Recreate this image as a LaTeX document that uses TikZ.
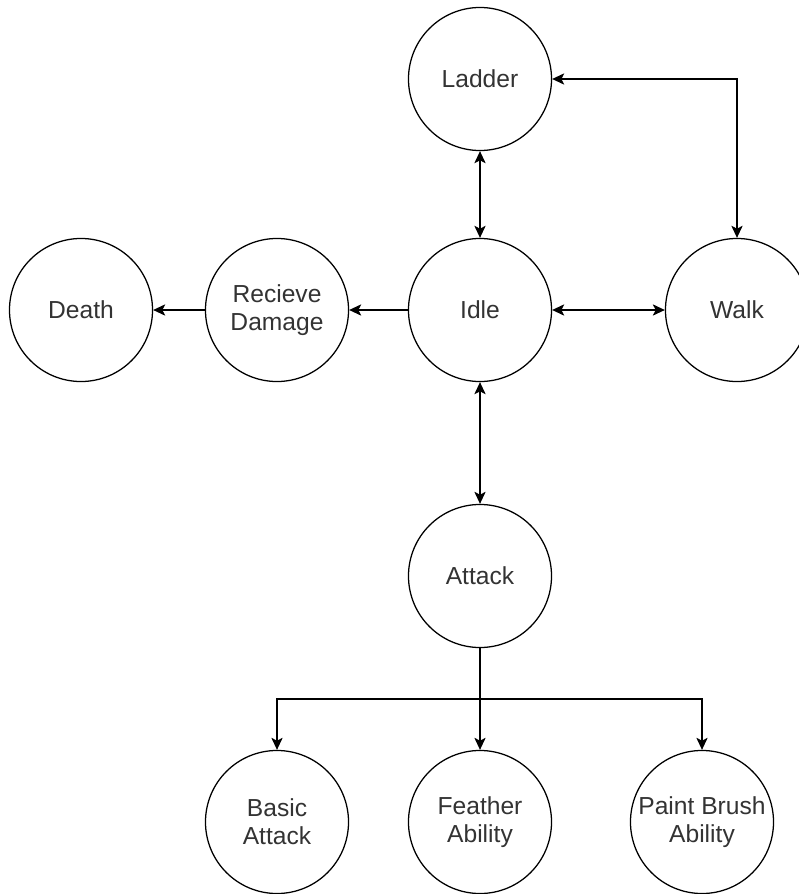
\documentclass[tikz,border=0pt]{standalone}
\usepackage{fontspec}
\setmainfont{Liberation Sans}
\usepackage{xcolor}
\usepackage{tikz}
\usetikzlibrary{arrows.meta, positioning}
\definecolor{labelgrey}{RGB}{51, 51, 51}

\begin{document}
\begin{tikzpicture}[
    x=0.025cm, y=-0.025cm,
    state/.style={circle, draw=black, line width=0.9pt, minimum size=3.575cm, inner sep=0pt, align=center, text=labelgrey, font=\fontsize{17.5}{20}\selectfont},
    arrow/.style={-{Stealth[length=0.3cm, width=0.28cm, inset=0.07cm]}, line width=0.9pt},
    both/.style={{Stealth[length=0.3cm, width=0.28cm, inset=0.07cm]}-{Stealth[length=0.3cm, width=0.28cm, inset=0.07cm]}, line width=0.9pt}
]
    \useasboundingbox (0, 0) rectangle (799, 894);

    % Movement states
    \node[state] (ladder) at (480, 79) {Ladder};
    \node[state] (idle) at (480, 310) {Idle};
    \node[state] (walk) at (737, 310) {Walk};

    % Damage states
    \node[state] (damage) at (277, 310) {Recieve\\Damage};
    \node[state] (death) at (81, 310) {Death};

    % Attack states
    \node[state] (attack) at (480, 576) {Attack};
    \node[state] (basic) at (277, 822) {Basic\\Attack};
    \node[state] (feather) at (480, 822) {Feather\\Ability};
    \node[state] (brush) at (702, 822) {Paint Brush\\Ability};
    \coordinate (fork) at (480, 699);

    \draw[both] (ladder) -- (idle);
    \draw[both] (walk.north) |- (ladder.east);
    \draw[both] (idle) -- (walk);
    \draw[arrow] (idle) -- (damage);
    \draw[arrow] (damage) -- (death);
    \draw[both] (idle) -- (attack);

    \draw[arrow] (attack) -- (feather);
    \draw[arrow] (fork) -| (basic);
    \draw[arrow] (fork) -| (brush);

\end{tikzpicture}
\end{document}
